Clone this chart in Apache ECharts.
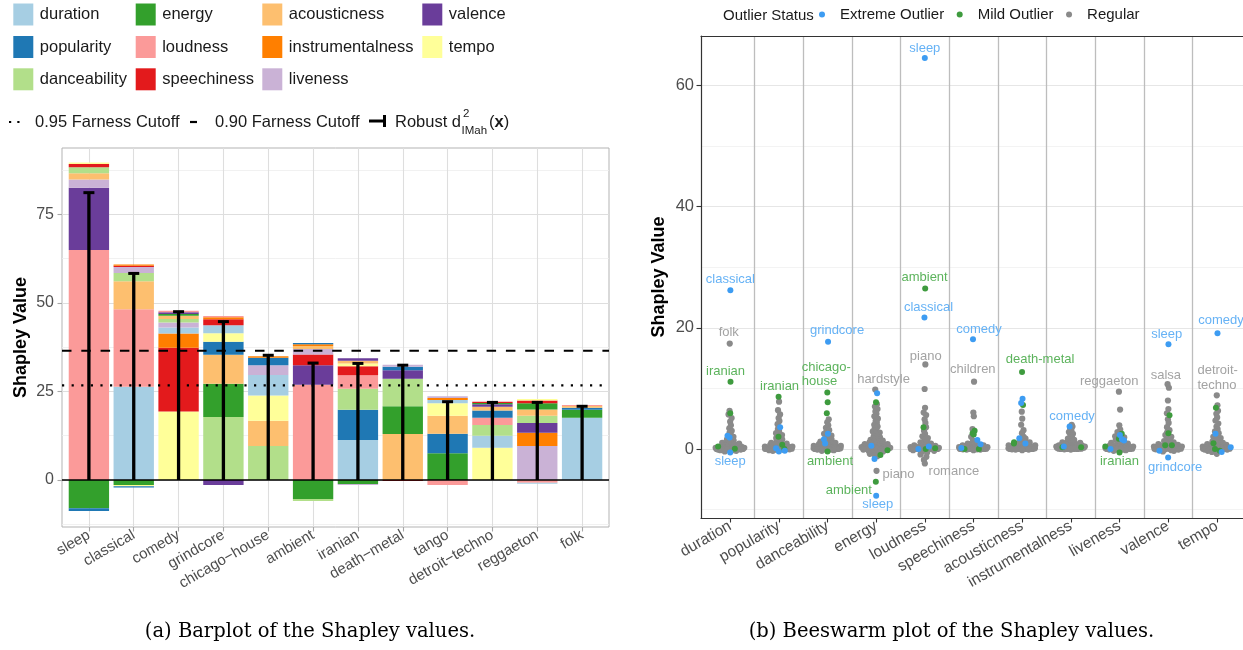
<!DOCTYPE html>
<html>
<head>
<meta charset="utf-8">
<script src="https://cdn.jsdelivr.net/npm/echarts@6/dist/echarts.min.js"></script>
<style>
  html, body { margin: 0; padding: 0; background: #fff; }
  #chart { width: 1243px; height: 650px; }
</style>
</head>
<body>
<div id="chart"></div>
<script>
// ---------------------------------------------------------------
// Shapley decomposition of the robust farness per genre (panel a)
// and distribution of Shapley values per feature (panel b)
// ---------------------------------------------------------------
const genres = ['sleep', 'classical', 'comedy', 'grindcore', 'chicago-house', 'ambient',
  'iranian', 'death-metal', 'tango', 'detroit-techno', 'reggaeton', 'folk'];
const features = ['duration', 'popularity', 'danceability', 'energy', 'loudness', 'speechiness',
  'acousticness', 'instrumentalness', 'liveness', 'valence', 'tempo'];
const featureColors = ['#A6CEE3', '#1F78B4', '#B2DF8A', '#33A02C', '#FB9A99', '#E31A1C',
  '#FDBF6F', '#FF7F00', '#CAB2D6', '#6A3D9A', '#FFFF99'];

// Shapley value of each feature, one entry per genre (same order as `genres`)
const duration         = [0, 26.3, 1.7, 2.3, 5.75, 0, 11.3, 0, 0.95, 3.4, -0.3, 17.6];
const popularity       = [-0.75, -0.35, 0, 3.7, 2.1, 0.35, 8.5, 0.95, 5.5, 2.0, 0, 0.55];
const danceability     = [1.7, 2.3, 1.0, 17.8, 9.6, -0.55, 5.95, 7.75, 0, 3.0, 2.0, 0];
const energy           = [-8.0, -1.4, 0.5, 9.35, 0, -5.4, -1.1, 7.8, 7.55, 0.4, 1.75, 2.25];
const loudness         = [64.9, 21.9, 0.4, 0.4, 0, 26.9, 3.8, 0, -1.4, 2.1, -0.75, 0.3];
const speechiness      = [0.95, 0.4, 18.0, 1.7, 0, 3.0, 2.55, -0.3, 0, 0.35, 0.75, 0];
const acousticness     = [1.75, 7.9, 0.9, 8.2, 7.15, 0.8, 0.75, 13.0, 5.1, 1.1, 1.8, 0.45];
const instrumentalness = [0, 0.3, 4.0, 0.5, 0.45, 0.5, 0, 0, 0.55, 0, 3.7, 0];
const liveness         = [2.3, 1.7, 1.4, 0, 2.8, 1.6, -0.3, 0.55, 0.45, 0, 9.6, 0];
const valence          = [17.6, 0, 0.5, -1.4, 0, 5.5, 0.7, 2.45, 0, 0.65, 2.8, 0];
const tempo            = [0.4, -0.4, 19.35, 2.35, 7.1, 0, 0.8, 0, 3.5, 9.1, 0.45, 0];

// Robust squared Mahalanobis distance per genre
const robustD2 = [81.1, 58.3, 47.5, 44.7, 35.2, 33.0, 32.9, 32.4, 22.1, 21.9, 21.9, 20.8];
// Farness cutoffs
const cutoff95 = 26.7;
const cutoff90 = 36.5;

// Beeswarm: Shapley values per feature (same order as `features`)
const regularVals = [
  [6.3,5.7,5.1,4.5,3.9,3.4,3.0,2.6,2.3,2.0,1.8,1.6,1.4,1.2,1.1,1.0,0.9,0.8,0.7,0.6,0.6,0.5,0.5,0.4,0.4,0.4,0.3,0.3,0.3,0.3,0.2,0.2,0.2,0.2,0.2,0.1,0.1,0.1,0.1,0.1,0.1,0.05,0.05,0.05,0.05,0,0,0,0,0,0,-0.05,-0.05,-0.1,-0.1,-0.1,-0.2,-0.2,-0.3,-0.4],
  [7.8,6.4,5.7,5.1,4.6,4.1,3.3,2.9,2.6,2.3,2.0,1.8,1.6,1.4,1.2,1.0,0.9,0.8,0.7,0.6,0.5,0.5,0.4,0.4,0.4,0.3,0.3,0.3,0.2,0.2,0.2,0.2,0.1,0.1,0.1,0.1,0.1,0.05,0.05,0.05,0,0,0,0,0,-0.05,-0.1,-0.1,-0.2,-0.3],
  [4.9,4.4,3.9,3.5,3.1,2.8,2.5,2.2,2.0,1.8,1.6,1.4,1.3,1.2,1.0,0.9,0.8,0.7,0.6,0.6,0.5,0.5,0.4,0.4,0.4,0.3,0.3,0.3,0.3,0.2,0.2,0.2,0.2,0.1,0.1,0.1,0.1,0.1,0.05,0.05,0.05,0,0,0,0,0,-0.05,-0.1,-0.1,-0.2,-0.3],
  [7.4,7.0,6.6,6.2,5.8,5.4,5.0,4.6,4.3,4.0,3.7,3.4,3.1,2.9,2.7,2.5,2.3,2.1,1.9,1.8,1.6,1.5,1.4,1.3,1.2,1.1,1.0,0.9,0.9,0.8,0.8,0.7,0.7,0.6,0.6,0.5,0.5,0.5,0.4,0.4,0.4,0.3,0.3,0.3,0.3,0.2,0.2,0.2,0.2,0.1,0.1,0.1,0.1,0.05,0.05,0,0,0,0,-0.1,-0.1,-0.2,-0.2,-0.3,-0.4,-0.5,-0.6,-0.8,-1.0,-1.2],
  [9.9,6.8,6.0,5.6,4.9,4.3,3.6,3.0,2.5,2.1,1.8,1.5,1.3,1.1,0.9,0.8,0.7,0.6,0.5,0.5,0.4,0.4,0.3,0.3,0.3,0.2,0.2,0.2,0.2,0.1,0.1,0.1,0.1,0.1,0.05,0.05,0.05,0,0,0,0,0,-0.05,-0.1,-0.1,-0.2,-0.3,-0.4,-0.6,-0.9,-1.3,-1.8],
  [6.0,5.4,3.3,2.0,1.4,1.1,0.9,0.8,0.7,0.6,0.6,0.5,0.5,0.4,0.4,0.4,0.3,0.3,0.3,0.3,0.2,0.2,0.2,0.2,0.2,0.1,0.1,0.1,0.1,0.1,0.1,0.05,0.05,0.05,0.05,0,0,0,0,0,0,-0.05,-0.05,-0.1,-0.1,-0.2],
  [6.15,5.0,4.0,3.1,2.6,2.0,1.7,1.5,1.3,1.1,1.0,0.9,0.8,0.7,0.6,0.6,0.5,0.5,0.4,0.4,0.4,0.3,0.3,0.3,0.3,0.2,0.2,0.2,0.2,0.1,0.1,0.1,0.1,0.1,0.05,0.05,0.05,0,0,0,0,0,-0.05,-0.1,-0.1,-0.2],
  [4.0,3.7,3.4,3.1,2.8,2.5,2.2,1.9,1.7,1.5,1.3,1.2,1.1,1.0,0.9,0.8,0.8,0.7,0.7,0.6,0.6,0.6,0.5,0.5,0.5,0.5,0.4,0.4,0.4,0.4,0.4,0.3,0.3,0.3,0.3,0.3,0.3,0.2,0.2,0.2,0.2,0.2,0.2,0.1,0.1,0.1,0.1,0.1,0.05,0.05,0.05,0,0,0,0,-0.05,-0.1],
  [6.5,3.9,3.2,2.8,2.4,2.1,1.9,1.6,1.4,1.2,1.0,0.9,0.8,0.7,0.6,0.6,0.5,0.5,0.4,0.4,0.4,0.3,0.3,0.3,0.3,0.2,0.2,0.2,0.2,0.1,0.1,0.1,0.1,0.1,0.05,0.05,0.05,0,0,0,0,0,-0.05,-0.1,-0.1,-0.2,-0.3],
  [10.1,8.0,6.6,5.9,4.9,4.3,3.6,3.1,2.7,2.3,2.0,1.7,1.5,1.3,1.1,1.0,0.9,0.8,0.7,0.6,0.6,0.5,0.5,0.4,0.4,0.4,0.3,0.3,0.3,0.3,0.2,0.2,0.2,0.2,0.1,0.1,0.1,0.1,0.1,0.05,0.05,0.05,0,0,0,0,0,-0.05,-0.1,-0.1,-0.2,-0.3,-0.4],
  [7.2,6.3,5.8,5.2,4.7,4.2,3.7,3.3,2.9,2.6,2.3,2.0,1.8,1.6,1.4,1.2,1.0,0.9,0.8,0.7,0.6,0.6,0.5,0.5,0.4,0.4,0.4,0.3,0.3,0.3,0.3,0.2,0.2,0.2,0.2,0.1,0.1,0.1,0.1,0.1,0.05,0.05,0.05,0,0,0,0,-0.05,-0.1,-0.1,-0.2,-0.3,-0.5,-0.8]
];
const mildVals = [
  [5.9, 0.4, 0.05], [2.0, 0.7, 0.0], [7.7, 5.9], [7.7, -0.2, -1.0], [3.6, 0.0, 0.1],
  [3.0, 2.6, 2.4, 0.0, 0.0], [7.25, 1.1, 0.9], [0.3, 0.3], [2.5, 1.7, 0.4],
  [5.55, 2.6, 0.6, 0.6], [6.8, 0.95, 0.0, -0.3]
];
const extremeVals = [
  [2.2, 1.9], [3.6, 0.1, -0.3, -0.4], [2.5, 1.6, 0.9], [9.2, 0.55, -1.65], [0.4, 0.0],
  [1.5, 0.8, 0.15], [8.3, 7.6, 1.75, 0.9], [0.4], [2.3, 1.6, 1.4, 0.0],
  [-0.3], [2.5, 0.3, -0.5]
];
// Named genres: [feature, value, genre, status]
const namedPoints = [
  ['duration', 26.2, 'classical', 'extreme'],
  ['duration', 17.4, 'folk', 'regular'],
  ['duration', 11.1, 'iranian', 'mild'],
  ['duration', -0.6, 'sleep', 'extreme'],
  ['popularity', 8.6, 'iranian', 'mild'],
  ['danceability', 17.7, 'grindcore', 'extreme'],
  ['danceability', 9.3, 'chicago-\nhouse', 'mild'],
  ['danceability', -0.4, 'ambient', 'mild'],
  ['energy', 9.8, 'hardstyle', 'regular'],
  ['energy', -3.6, 'piano', 'regular'],
  ['energy', -5.4, 'ambient', 'mild'],
  ['energy', -7.7, 'sleep', 'extreme'],
  ['loudness', 64.5, 'sleep', 'extreme'],
  ['loudness', 26.5, 'ambient', 'mild'],
  ['loudness', 21.7, 'classical', 'extreme'],
  ['loudness', 13.95, 'piano', 'regular'],
  ['loudness', -2.4, 'romance', 'regular'],
  ['speechiness', 18.1, 'comedy', 'extreme'],
  ['speechiness', 11.1, 'children', 'regular'],
  ['acousticness', 12.7, 'death-metal', 'mild'],
  ['instrumentalness', 3.7, 'comedy', 'extreme'],
  ['liveness', 9.45, 'reggaeton', 'regular'],
  ['liveness', -0.6, 'iranian', 'mild'],
  ['valence', 17.3, 'sleep', 'extreme'],
  ['valence', 10.7, 'salsa', 'regular'],
  ['valence', -1.4, 'grindcore', 'extreme'],
  ['tempo', 19.1, 'comedy', 'extreme'],
  ['tempo', 8.85, 'detroit-\ntechno', 'regular']
];
// Label placement (pixel nudge from the point, text alignment), one per named genre
const labelNudges = [
  [0, -11], [-1, -11.5], [-5, -10], [0, 9], [1, -10.3], [9, -11], [-25.6, -18.3, 'left'],
  [2.5, 10], [8.3, -10.6], [22, 4], [-27, 8.7], [1.6, 8.3], [0, -10], [-0.6, -10.7],
  [4, -10], [0.4, -8.3], [29, 7.4], [6, -10.3], [-1.2, -12.4], [18, -12.4], [2.5, -10],
  [-9.7, -10], [0, 9], [-1.7, -9.7], [-1.7, -8.7], [7, 10.4], [3.5, -12.6], [-19.3, -17.3, 'left']
];

// ---------------------------------------------------------------
const FONT = '"Liberation Sans", Arial, Helvetica, sans-serif';
const SERIF = '"DejaVu Serif", "Liberation Serif", serif';
const LEFT = { left: 62, top: 148, width: 547, height: 379 };
// the beeswarm panel runs off the right edge of the page; only its visible part is laid out
const RIGHT = { left: 701, top: 36, width: 542, height: 482 };
const R_BAND = 48.66; // pixels per feature slot
const L_XMIN = -0.6, L_XMAX = genres.length - 1 + 0.6;
const L_YMIN = -13.27, L_YMAX = 93.7;
const R_XMIN = -0.6, R_XMAX = R_XMIN + RIGHT.width / R_BAND;
const R_YMIN = -11.39, R_YMAX = 68.15;

// --- stacked segments: positives largest-first from zero, negatives likewise
const barRows = [duration, popularity, danceability, energy, loudness, speechiness,
  acousticness, instrumentalness, liveness, valence, tempo];
const segments = [];
genres.forEach((g, gi) => {
  const vals = barRows.map((row, fi) => ({ fi, v: row[gi] }));
  const pos = vals.filter(d => d.v > 0).sort((a, b) => b.v - a.v);
  const neg = vals.filter(d => d.v < 0).sort((a, b) => a.v - b.v);
  let base = 0;
  pos.forEach(d => { segments.push([gi, base, base + d.v, d.fi]); base += d.v; });
  base = 0;
  neg.forEach(d => { segments.push([gi, base, base + d.v, d.fi]); base += d.v; });
});

// --- quasirandom swarm layout (van der Corput offsets scaled by local density)
const pxPerUnitX = R_BAND;
const pxPerUnitY = RIGHT.height / (R_YMAX - R_YMIN);
function vdc(n) { let v = 0, d = 1; while (n > 0) { d *= 2; v += (n % 2) / d; n = Math.floor(n / 2); } return v; }
const statusList = ['regular', 'mild', 'extreme'];
const statusVals = { regular: regularVals, mild: mildVals, extreme: extremeVals };
const swarmPoints = [];
features.forEach((f, fi) => {
  const pts = [];
  statusList.forEach(s => statusVals[s][fi].forEach(v => pts.push({ fi, v, status: s, label: -1 })));
  namedPoints.forEach((p, k) => { if (p[0] === f) pts.push({ fi, v: p[1], status: p[3], label: k }); });
  const ys = pts.map(p => p.v * pxPerUnitY);
  const bw = 3.5;
  const dens = ys.map(y => ys.reduce((s, yy) => s + Math.exp(-0.5 * ((y - yy) / bw) ** 2), 0));
  const maxD = Math.max(...dens);
  const order = pts.map((p, i) => i).sort((a, b) => pts[a].v - pts[b].v);
  order.forEach((idx, rank) => {
    const w = 15 * Math.pow(dens[idx] / maxD, 0.85);
    pts[idx].dx = (vdc(rank + 1) * 2 - 1) * w / pxPerUnitX;
  });
  pts.forEach(p => swarmPoints.push(p));
});

const statusStyle = {
  regular: { name: 'Regular', point: '#8a8a8a', text: '#a3a3a3', size: 6.2 },
  mild: { name: 'Mild Outlier', point: '#3e9b3e', text: '#5cb35c', size: 6 },
  extreme: { name: 'Extreme Outlier', point: '#3d9cf2', text: '#66b2f5', size: 6 }
};
function scatterData(status) {
  const st = statusStyle[status];
  return swarmPoints.filter(p => p.status === status).map(p => {
    const item = { value: [p.fi + p.dx, p.v] };
    if (p.label >= 0) {
      const nudge = labelNudges[p.label];
      item.label = {
        show: true, position: 'inside', formatter: namedPoints[p.label][2],
        offset: [nudge[0], nudge[1]], align: nudge[2] || 'center', verticalAlign: 'middle',
        color: st.text, fontSize: 13, lineHeight: 14.5, fontFamily: FONT
      };
    }
    return item;
  });
}

// --- graphic: legends and captions
const graphics = [];
features.forEach((f, k) => {
  const col = Math.floor(k / 3), row = k % 3;
  const kx = [13.3, 135.7, 262.3, 422.3][col];
  const cy = [14.5, 47, 79.3][row];
  graphics.push({ type: 'rect', shape: { x: kx, y: cy - 11, width: 20, height: 22 }, style: { fill: featureColors[k] } });
  graphics.push({ type: 'text', style: { text: f, x: kx + 26.5, y: cy, fill: '#1a1a1a', font: '16.5px ' + FONT,
    align: 'left', verticalAlign: 'middle', textAlign: 'left', textVerticalAlign: 'middle' } });
});
const rowY = 122;
function txt(text, x, y, size, extra) {
  return Object.assign({ type: 'text', style: Object.assign({ text, x, y, fill: '#1a1a1a', font: size + 'px ' + FONT,
    align: 'left', verticalAlign: 'middle', textAlign: 'left', textVerticalAlign: 'middle' }, extra || {}) });
}
graphics.push({ type: 'line', shape: { x1: 9, y1: rowY, x2: 21, y2: rowY }, style: { stroke: '#000', lineWidth: 2.2, lineDash: [2.2, 6.1] } });
graphics.push(txt('0.95 Farness Cutoff', 35, rowY, 16.5));
graphics.push({ type: 'line', shape: { x1: 190, y1: rowY, x2: 197, y2: rowY }, style: { stroke: '#000', lineWidth: 2.2 } });
graphics.push(txt('0.90 Farness Cutoff', 215, rowY, 16.5));
graphics.push({ type: 'line', shape: { x1: 369, y1: rowY - 1, x2: 384.5, y2: rowY - 1 }, style: { stroke: '#000', lineWidth: 3 } });
graphics.push({ type: 'line', shape: { x1: 384.5, y1: rowY - 7, x2: 384.5, y2: rowY + 5 }, style: { stroke: '#000', lineWidth: 3 } });
graphics.push(txt('Robust d', 395, rowY, 16.5));
graphics.push(txt('2', 463, rowY - 8.5, 11.5));
graphics.push(txt('IMah', 461.5, rowY + 8.5, 11.5));
graphics.push({ type: 'text', style: { text: '{n|(}{b|x}{n|)}', x: 489, y: rowY, align: 'left', verticalAlign: 'middle',
  textAlign: 'left', textVerticalAlign: 'middle',
  rich: { n: { fontSize: 16.5, fontFamily: FONT, fill: '#1a1a1a', color: '#1a1a1a' },
          b: { fontSize: 16.5, fontFamily: FONT, fontWeight: 'bold', fill: '#1a1a1a', color: '#1a1a1a' } } } });
graphics.push(txt('Outlier Status', 723, 16, 15));
graphics.push({ type: 'text', style: { text: '(a) Barplot of the Shapley values.', x: 310, y: 632, fill: '#000',
  font: '19.5px ' + SERIF, align: 'center', verticalAlign: 'middle', textAlign: 'center', textVerticalAlign: 'middle' } });
graphics.push({ type: 'text', style: { text: '(b) Beeswarm plot of the Shapley values.', x: 951.5, y: 632, fill: '#000',
  font: '19.5px ' + SERIF, align: 'center', verticalAlign: 'middle', textAlign: 'center', textVerticalAlign: 'middle' } });

// --- reference lines (zero, cutoffs)
const refLines = [[0, 0], [cutoff90, 1], [cutoff95, 2]];
const refStyles = [
  { stroke: '#000', lineWidth: 1.3 },
  { stroke: '#000', lineWidth: 2, lineDash: [9.5, 9.8] },
  { stroke: '#000', lineWidth: 2.2, lineDash: [2.2, 7.4] }
];

const idx = n => Array.from({ length: n }, (_, i) => i);

const option = {
  animation: false,
  textStyle: { fontFamily: FONT },
  legend: {
    data: ['Extreme Outlier', 'Mild Outlier', 'Regular'],
    left: 819, top: 7, padding: 0, itemWidth: 26, itemHeight: 6, itemGap: 12.5, icon: 'circle',
    selectedMode: false,
    textStyle: { fontSize: 15, color: '#1a1a1a', fontFamily: FONT }
  },
  grid: [
    Object.assign({ show: true, borderColor: '#b3b3b3', borderWidth: 1, backgroundColor: '#fff' }, LEFT),
    Object.assign({ show: false }, RIGHT)
  ],
  xAxis: [
    { type: 'value', gridIndex: 0, min: L_XMIN, max: L_XMAX,
      axisLine: { show: false, onZero: false },
      axisTick: { show: true, customValues: idx(genres.length), length: 4.5, lineStyle: { color: '#a8a8a8', width: 1.1 } },
      axisLabel: { customValues: idx(genres.length), formatter: v => genres[Math.round(v)].replace(/-/g, '\u2212'),
        rotate: 30, fontSize: 15, color: '#4d4d4d', margin: 7, fontFamily: FONT },
      splitLine: { show: true, lineStyle: { color: '#dedede', width: 1.1 } } },
    { type: 'value', gridIndex: 1, min: R_XMIN, max: R_XMAX,
      axisLine: { show: true, onZero: false, lineStyle: { color: '#333', width: 1.2 } },
      axisTick: { show: true, customValues: idx(features.length), length: 4.5, lineStyle: { color: '#333', width: 1.1 } },
      axisLabel: { customValues: idx(features.length), formatter: v => features[Math.round(v)],
        rotate: 30, fontSize: 15.5, color: '#4d4d4d', margin: 7, fontFamily: FONT },
      splitLine: { show: false } },
    { type: 'value', gridIndex: 1, min: R_XMIN, max: R_XMAX, position: 'top',
      axisLine: { show: true, onZero: false, lineStyle: { color: '#333', width: 1.2 } },
      axisTick: { show: false, customValues: idx(features.length - 1).map(i => i + 0.5) },
      axisLabel: { show: false },
      splitLine: { show: true, lineStyle: { color: '#bdbdbd', width: 1.3 } } }
  ],
  yAxis: [
    { type: 'value', gridIndex: 0, min: L_YMIN, max: L_YMAX,
      axisLine: { show: false, onZero: false },
      axisTick: { show: true, customValues: [0, 25, 50, 75], length: 4.5, lineStyle: { color: '#a8a8a8', width: 1.1 } },
      axisLabel: { customValues: [0, 25, 50, 75], fontSize: 16, color: '#4d4d4d', margin: 8, fontFamily: FONT },
      splitLine: { show: true, lineStyle: { color: '#dedede', width: 1.1 } },
      name: 'Shapley Value', nameLocation: 'middle', nameGap: 32,
      nameTextStyle: { fontSize: 18, fontWeight: 'bold', color: '#000', fontFamily: FONT } },
    { type: 'value', gridIndex: 0, min: L_YMIN, max: L_YMAX,
      axisLine: { show: false, onZero: false },
      axisTick: { show: false, customValues: [-12.5, 12.5, 37.5, 62.5, 87.5] },
      axisLabel: { show: false },
      splitLine: { show: true, lineStyle: { color: '#ededed', width: 0.8 } } },
    { type: 'value', gridIndex: 1, min: R_YMIN, max: R_YMAX,
      axisLine: { show: true, onZero: false, lineStyle: { color: '#333', width: 1.2 } },
      axisTick: { show: true, customValues: [0, 20, 40, 60], length: 4.5, lineStyle: { color: '#333', width: 1.1 } },
      axisLabel: { customValues: [0, 20, 40, 60], fontSize: 16.5, color: '#4d4d4d', margin: 7, fontFamily: FONT },
      splitLine: { show: true, lineStyle: { color: '#e6e6e6', width: 1 } },
      name: 'Shapley Value', nameLocation: 'middle', nameGap: 33,
      nameTextStyle: { fontSize: 18, fontWeight: 'bold', color: '#000', fontFamily: FONT } },
    { type: 'value', gridIndex: 1, min: R_YMIN, max: R_YMAX,
      axisLine: { show: false, onZero: false },
      axisTick: { show: false, customValues: [-10, 10, 30, 50] },
      axisLabel: { show: false },
      splitLine: { show: true, lineStyle: { color: '#f0f0f0', width: 0.8 } } }
  ],
  series: [
    { type: 'custom', name: 'Shapley contributions', xAxisIndex: 0, yAxisIndex: 0, silent: true, z: 2,
      data: segments, encode: { x: 0, y: [1, 2] },
      renderItem: (params, api) => {
        const x = api.value(0);
        const p0 = api.coord([x, api.value(1)]);
        const p1 = api.coord([x, api.value(2)]);
        const w = api.size([1, 0])[0] * 0.9;
        return { type: 'rect',
          shape: { x: p0[0] - w / 2, y: Math.min(p0[1], p1[1]), width: w, height: Math.abs(p1[1] - p0[1]) },
          style: { fill: featureColors[api.value(3)] } };
      } },
    { type: 'custom', name: 'Reference lines', xAxisIndex: 0, yAxisIndex: 0, silent: true, z: 3,
      data: refLines.map(r => [r[0], r[1]]), encode: { y: 0 },
      renderItem: (params, api) => {
        const y = api.value(0);
        const a = api.coord([L_XMIN, y]), b = api.coord([L_XMAX, y]);
        return { type: 'line', shape: { x1: a[0], y1: a[1], x2: b[0], y2: b[1] },
          style: Object.assign({ fill: null }, refStyles[api.value(1)]) };
      } },
    { type: 'custom', name: 'Robust d2', xAxisIndex: 0, yAxisIndex: 0, silent: true, z: 4,
      data: robustD2.map((v, i) => [i, v]), encode: { x: 0, y: 1 },
      renderItem: (params, api) => {
        const x = api.value(0);
        const top = api.coord([x, api.value(1)]);
        const bot = api.coord([x, 0]);
        return { type: 'group', children: [
          { type: 'line', shape: { x1: bot[0], y1: bot[1], x2: top[0], y2: top[1] }, style: { stroke: '#000', lineWidth: 3.3 } },
          { type: 'line', shape: { x1: top[0] - 5.5, y1: top[1], x2: top[0] + 5.5, y2: top[1] }, style: { stroke: '#000', lineWidth: 3 } }
        ] };
      } },
    ...['regular', 'mild', 'extreme'].map((s, k) => ({
      type: 'scatter', name: statusStyle[s].name, xAxisIndex: 1, yAxisIndex: 2, silent: true, z: 3 + k,
      symbolSize: statusStyle[s].size, itemStyle: { color: statusStyle[s].point, opacity: 1 },
      emphasis: { disabled: true },
      data: scatterData(s)
    }))
  ],
  graphic: { elements: graphics }
};

const chart = echarts.init(document.getElementById('chart'), null, { renderer: 'canvas', width: 1243, height: 650 });
chart.setOption(option);
</script>
</body>
</html>
